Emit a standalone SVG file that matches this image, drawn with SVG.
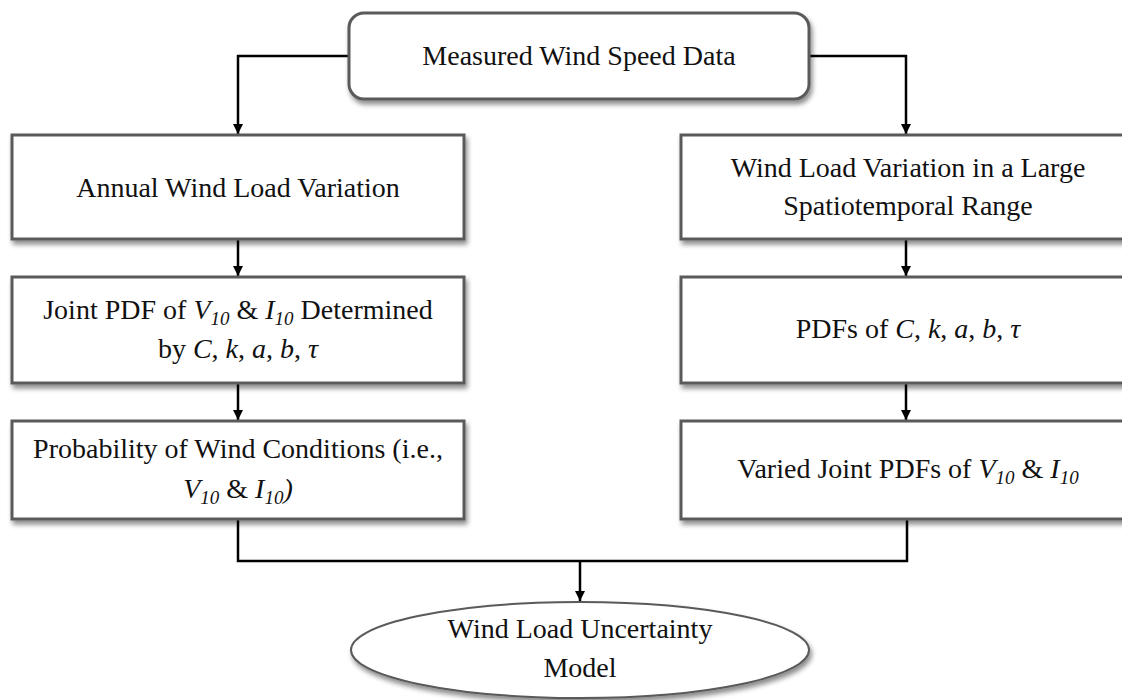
<svg xmlns="http://www.w3.org/2000/svg" width="1122" height="700" viewBox="0 0 1122 700">
<defs>
<filter id="sh" x="-10%" y="-10%" width="130%" height="140%">
<feDropShadow dx="2" dy="4" stdDeviation="2.5" flood-color="#000" flood-opacity="0.45"/>
</filter>
<marker id="ah" viewBox="0 0 10 10" refX="10" refY="5" markerWidth="10" markerHeight="10" markerUnits="userSpaceOnUse" orient="auto">
<path d="M0,0 L10,5 L0,10 Z" fill="#000"/>
</marker>
<style>
.box{fill:#fff;stroke:#5a5a5a;stroke-width:3;filter:url(#sh);}
.ell{fill:#fff;stroke:#5a5a5a;stroke-width:2;filter:url(#sh);}
.t{font-family:"Liberation Serif","Times New Roman",serif;font-size:28px;fill:#111;text-anchor:middle;}
.i{font-style:italic;}
.s{font-size:19px;font-style:italic;}
.c{fill:none;stroke:#000;stroke-width:2.5;}
</style>
</defs>
<rect width="1122" height="700" fill="#fff"/>
<g id="connectors">
<path class="c" d="M349,56 H238 V134" marker-end="url(#ah)"/>
<path class="c" d="M809,56 H906 V134" marker-end="url(#ah)"/>
<path class="c" d="M238,240 V276" marker-end="url(#ah)"/>
<path class="c" d="M238,384 V420" marker-end="url(#ah)"/>
<path class="c" d="M906,240 V276" marker-end="url(#ah)"/>
<path class="c" d="M906,384 V420" marker-end="url(#ah)"/>
<path class="c" d="M238,520 V561 H907 V520"/>
<path class="c" d="M580,561 V601" marker-end="url(#ah)"/>
</g>
<g id="measured">
<rect class="box" x="349" y="13" width="460" height="86" rx="15"/>
<text class="t" x="579" y="65">Measured Wind Speed Data</text>
</g>
<g id="annual">
<rect class="box" x="12" y="135" width="452" height="104"/>
<text class="t" x="238" y="197">Annual Wind Load Variation</text>
</g>
<g id="jointpdf">
<rect class="box" x="12" y="277" width="452" height="106"/>
<text class="t" x="238" y="319">Joint PDF of <tspan class="i">V</tspan><tspan class="s" dy="6">10</tspan><tspan dy="-6"> &amp; </tspan><tspan class="i">I</tspan><tspan class="s" dy="6">10</tspan><tspan dy="-6"> Determined</tspan></text>
<text class="t" x="238" y="358">by <tspan class="i">C</tspan>, <tspan class="i">k</tspan>, <tspan class="i">a</tspan>, <tspan class="i">b</tspan>, <tspan class="i">τ</tspan></text>
</g>
<g id="probability">
<rect class="box" x="12" y="421" width="452" height="98"/>
<text class="t" x="238" y="458">Probability of Wind Conditions (i.e.,</text>
<text class="t" x="238" y="498"><tspan class="i">V</tspan><tspan class="s" dy="6">10</tspan><tspan dy="-6"> &amp; </tspan><tspan class="i">I</tspan><tspan class="s" dy="6">10</tspan><tspan class="i" dy="-6">)</tspan></text>
</g>
<g id="largerange">
<rect class="box" x="681" y="135" width="452" height="104"/>
<text class="t" x="908" y="177">Wind Load Variation in a Large</text>
<text class="t" x="908" y="215">Spatiotemporal Range</text>
</g>
<g id="pdfs">
<rect class="box" x="681" y="277" width="452" height="106"/>
<text class="t" x="908" y="338">PDFs of <tspan class="i">C</tspan>, <tspan class="i">k</tspan>, <tspan class="i">a</tspan>, <tspan class="i">b</tspan>, <tspan class="i">τ</tspan></text>
</g>
<g id="varied">
<rect class="box" x="681" y="421" width="452" height="98"/>
<text class="t" x="908" y="478">Varied Joint PDFs of <tspan class="i">V</tspan><tspan class="s" dy="6">10</tspan><tspan dy="-6"> &amp; </tspan><tspan class="i">I</tspan><tspan class="s" dy="6">10</tspan></text>
</g>
<g id="uncertainty">
<ellipse class="ell" cx="580" cy="650" rx="229" ry="48"/>
<text class="t" x="580" y="638">Wind Load Uncertainty</text>
<text class="t" x="580" y="677">Model</text>
</g>
</svg>
